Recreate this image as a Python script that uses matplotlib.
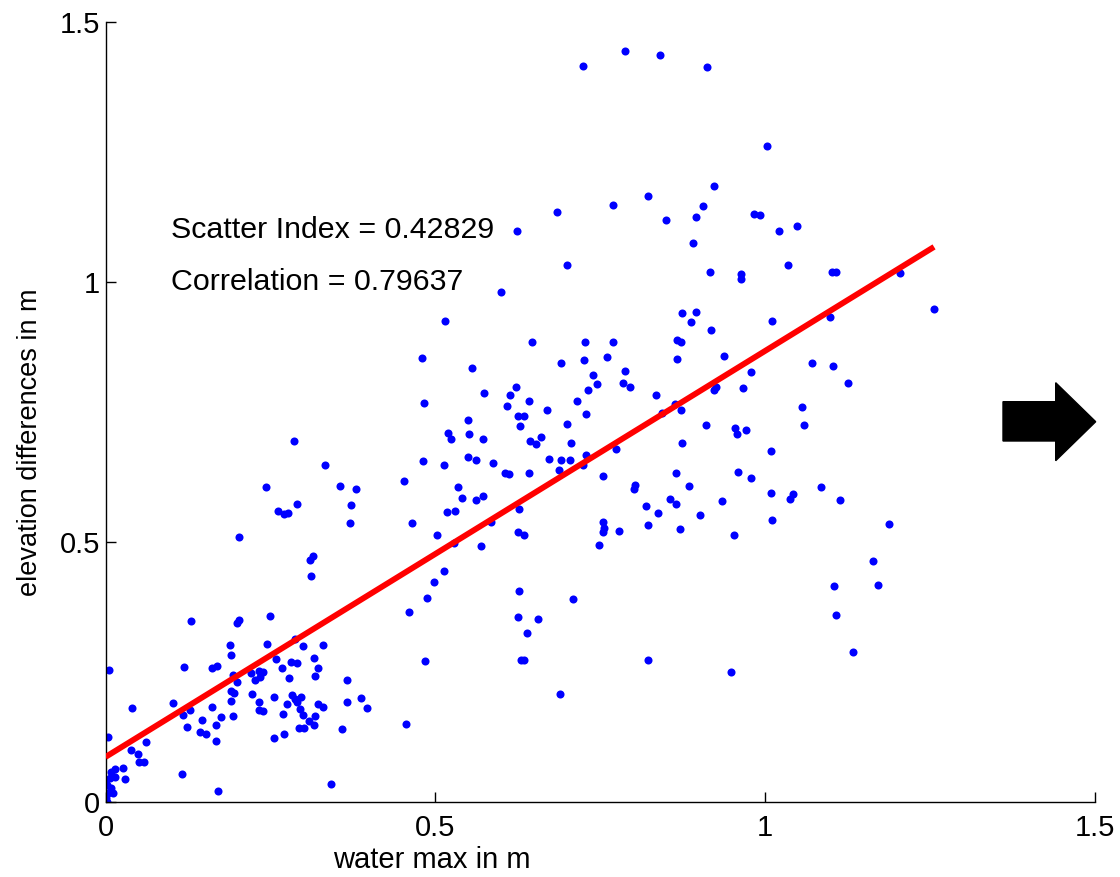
import matplotlib
matplotlib.use("Agg")
import matplotlib.pyplot as plt
from matplotlib.patches import Polygon
import numpy as np

plt.rcParams['font.family'] = ['Liberation Sans', 'DejaVu Sans']

# water max (m) and elevation differences (m) for each station
water_max = [
    0.724, 0.685, 0.624, 0.700, 0.600,
    0.788, 0.840, 0.912, 1.003, 0.922, 0.769, 0.823, 0.850, 0.906, 0.895, 0.890,
    0.983, 0.992, 1.021, 1.048, 1.034, 0.917, 0.963, 0.963, 1.101, 1.108, 1.205,
    0.285, 0.332, 0.243, 0.356, 0.379, 0.261, 0.271, 0.277, 0.290, 0.372, 0.371, 0.202,
    0.514, 0.646, 0.727, 0.480, 0.556, 0.690, 0.726, 0.760, 0.739, 0.745, 0.731, 0.714,
    0.729, 0.622, 0.613, 0.642, 0.609, 0.574, 0.669, 0.626, 0.635, 0.629, 0.699, 0.483,
    0.550, 0.519, 0.524, 0.551, 0.572, 0.644, 0.653, 0.660, 0.706, 0.482, 0.513, 0.549,
    0.561, 0.588, 0.606, 0.611, 0.642, 0.673, 0.691, 0.704, 0.688, 0.728, 0.724, 0.754,
    0.453, 0.535, 0.541, 0.561, 0.572, 0.518, 0.530, 0.627, 0.585, 0.464, 0.503, 0.625,
    0.634, 0.529, 0.569, 0.748, 0.754, 0.755, 0.754,
    0.874, 0.895, 0.887, 0.918, 1.011, 1.098, 0.770, 0.866, 0.873, 0.866, 0.937, 0.788,
    0.978, 1.071, 1.103, 1.126, 0.785, 0.795, 0.834, 0.923, 0.925, 0.966, 0.863, 0.843,
    0.873, 0.911, 0.954, 0.958, 0.971, 1.056, 1.059, 0.774, 0.874, 1.009, 0.865, 0.959,
    0.979, 0.803, 0.801, 0.885, 1.009, 1.042, 1.038, 1.085, 1.113, 0.820, 0.837, 0.855,
    0.865, 0.901, 0.935, 1.011, 0.779, 0.823, 0.871, 0.953,
    1.256, 1.187,
    0.513, 0.498, 0.488, 0.460, 0.627, 0.626, 0.655, 0.639, 0.630, 0.635, 0.709, 0.485,
    0.689, 0.387, 0.396, 0.455,
    1.105, 1.108, 1.133, 0.823, 0.948, 1.163, 1.171,
    0.310, 0.315, 0.311, 0.130, 0.203, 0.200, 0.249, 0.005, 0.119, 0.161, 0.169, 0.188,
    0.191, 0.245, 0.300, 0.329, 0.287, 0.258, 0.281, 0.291, 0.316, 0.322, 0.317, 0.268,
    0.278, 0.220, 0.232, 0.239, 0.227, 0.234, 0.193, 0.199, 0.191, 0.195, 0.222, 0.191,
    0.161, 0.102, 0.118, 0.128, 0.040, 0.146, 0.175, 0.193, 0.167, 0.124, 0.144, 0.153,
    0.168, 0.232, 0.239, 0.232, 0.256, 0.269, 0.275, 0.283, 0.288, 0.296, 0.291, 0.295,
    0.299, 0.322, 0.330, 0.294, 0.301, 0.308, 0.316, 0.318, 0.271, 0.256, 0.358, 0.366,
    0.366, 0.062, 0.038, 0.049, 0.051, 0.058, 0.004, 0.116, 0.171, 0.342, 0.027, 0.030,
    0.014, 0.009, 0.015, 0.007, 0.000, 0.002, 0.008, 0.012, 0.004, 0.000, 0.003, 0.000,
]
elevation_diff = [
    1.415, 1.135, 1.098, 1.033, 0.980,
    1.444, 1.436, 1.413, 1.261, 1.185, 1.148, 1.164, 1.119, 1.146, 1.124, 1.074,
    1.130, 1.128, 1.097, 1.107, 1.033, 1.019, 1.014, 1.005, 1.019, 1.019, 1.017,
    0.694, 0.647, 0.605, 0.608, 0.601, 0.560, 0.553, 0.556, 0.572, 0.571, 0.536, 0.509,
    0.925, 0.884, 0.884, 0.853, 0.835, 0.843, 0.850, 0.856, 0.821, 0.803, 0.792, 0.771,
    0.746, 0.797, 0.783, 0.771, 0.761, 0.786, 0.753, 0.741, 0.741, 0.723, 0.727, 0.767,
    0.735, 0.709, 0.698, 0.708, 0.698, 0.693, 0.687, 0.702, 0.690, 0.655, 0.648, 0.662,
    0.657, 0.651, 0.632, 0.630, 0.632, 0.660, 0.657, 0.658, 0.638, 0.666, 0.648, 0.626,
    0.616, 0.605, 0.585, 0.580, 0.588, 0.557, 0.560, 0.562, 0.538, 0.536, 0.513, 0.519,
    0.512, 0.497, 0.492, 0.494, 0.538, 0.527, 0.518,
    0.940, 0.942, 0.923, 0.907, 0.925, 0.933, 0.884, 0.888, 0.884, 0.851, 0.858, 0.829,
    0.826, 0.843, 0.837, 0.805, 0.805, 0.798, 0.782, 0.792, 0.798, 0.796, 0.765, 0.748,
    0.754, 0.725, 0.718, 0.708, 0.715, 0.759, 0.725, 0.679, 0.689, 0.675, 0.632, 0.634,
    0.622, 0.610, 0.601, 0.607, 0.593, 0.591, 0.583, 0.606, 0.581, 0.569, 0.556, 0.582,
    0.573, 0.552, 0.578, 0.542, 0.521, 0.532, 0.524, 0.513,
    0.947, 0.534,
    0.444, 0.423, 0.392, 0.364, 0.405, 0.356, 0.352, 0.325, 0.272, 0.273, 0.390, 0.270,
    0.207, 0.200, 0.180, 0.149,
    0.415, 0.360, 0.287, 0.272, 0.249, 0.462, 0.417,
    0.465, 0.472, 0.435, 0.347, 0.349, 0.343, 0.358, 0.253, 0.259, 0.257, 0.261, 0.301,
    0.282, 0.303, 0.299, 0.301, 0.312, 0.274, 0.268, 0.266, 0.276, 0.258, 0.241, 0.257,
    0.238, 0.247, 0.251, 0.249, 0.234, 0.240, 0.244, 0.231, 0.212, 0.210, 0.207, 0.194,
    0.183, 0.190, 0.167, 0.177, 0.180, 0.158, 0.163, 0.165, 0.147, 0.144, 0.135, 0.130,
    0.116, 0.191, 0.174, 0.176, 0.202, 0.169, 0.187, 0.205, 0.198, 0.202, 0.192, 0.178,
    0.167, 0.187, 0.182, 0.141, 0.141, 0.156, 0.148, 0.164, 0.130, 0.123, 0.139, 0.235,
    0.192, 0.114, 0.100, 0.092, 0.077, 0.077, 0.124, 0.053, 0.020, 0.035, 0.065, 0.043,
    0.063, 0.058, 0.048, 0.045, 0.042, 0.032, 0.026, 0.016, 0.016, 0.007, 0.000, 0.000,
]

# least-squares fit line and statistics
fit_intercept = 0.086
fit_slope = 0.781
stats_labels = ["Scatter Index = 0.42829", "Correlation = 0.79637"]
axis_ticks = [0, 0.5, 1, 1.5]
tick_labels = ["0", "0.5", "1", "1.5"]

W, H = 1120, 877
fig = plt.figure(figsize=(W / 100, H / 100), dpi=100)
ax = fig.add_axes([105.5 / W, 1 - 801.7 / H, (1095 - 105.5) / W, (801.7 - 21.7) / H])

x = np.array(water_max)
y = np.array(elevation_diff)
ax.plot(x, y, linestyle="none", marker="o", markersize=5.8,
        markerfacecolor=(0, 0, 1), markeredgewidth=0, zorder=2)

xf = np.array([x.min(), x.max()])
ax.plot(xf, fit_intercept + fit_slope * xf, color=(1, 0, 0), linewidth=4.2,
        solid_capstyle="butt", zorder=3)

ax.text(0.1, 1.1, stats_labels[0], fontsize=21.9, va="center", ha="left")
ax.text(0.1, 1.0, stats_labels[1], fontsize=21.9, va="center", ha="left")

ax.set_xlim(0, 1.5)
ax.set_ylim(0, 1.5)
ax.set_xticks(axis_ticks)
ax.set_xticklabels(tick_labels)
ax.set_yticks(axis_ticks)
ax.set_yticklabels(tick_labels)
ax.tick_params(direction="in", length=7, width=1, labelsize=21)
ax.tick_params(axis="y", pad=4)
ax.tick_params(axis="x", pad=9)
for side in ("top", "right"):
    ax.spines[side].set_visible(False)
for side in ("left", "bottom"):
    ax.spines[side].set_linewidth(1)

ax.set_xlabel("water max in m", fontsize=21, va="center")
ax.set_ylabel("elevation differences in m", fontsize=19.5, va="center")
ax.xaxis.set_label_coords(0.33, -0.075)
ax.yaxis.set_label_coords(-0.076, 0.461)

# block arrow to the right of the axes
arrow_px = [(1003, 401.7), (1055.7, 401.7), (1055.7, 382.7), (1095.7, 421.7),
            (1055.7, 460.7), (1055.7, 441), (1003, 441)]
arrow = Polygon([(px / W, 1 - py / H) for px, py in arrow_px], closed=True,
                facecolor="black", edgecolor="black", transform=fig.transFigure,
                clip_on=False)
fig.patches.append(arrow)

fig.savefig("out.png", dpi=100, facecolor="white")
